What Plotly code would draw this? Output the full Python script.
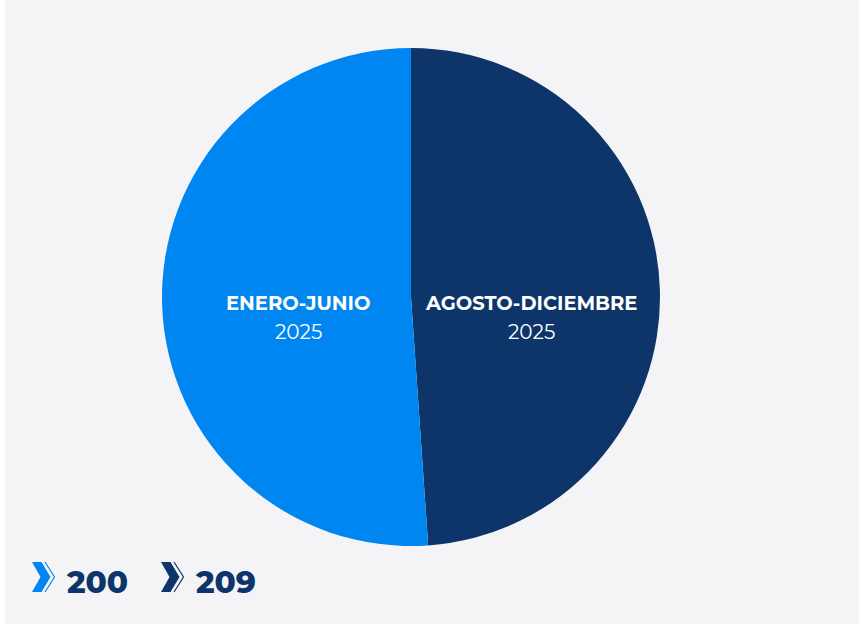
import plotly.graph_objects as go

# slice shares as drawn (dark slice on the right is slightly smaller)
slice_labels = ["AGOSTO-DICIEMBRE", "ENERO-JUNIO"]
slice_years = ["2025", "2025"]
slice_values = [200, 209]
slice_colors = ["#0d356a", "#0086f1"]

# totals shown under the pie
legend_totals = [200, 209]
legend_colors = ["#0086f1", "#0d356a"]

W, H = 859, 624
BG = "#f4f4f7"
TEXT_DARK = "#0d356a"
FONT = "Montserrat, DejaVu Sans"

fig = go.Figure()

fig.add_trace(go.Pie(
    labels=slice_labels,
    values=slice_values,
    marker=dict(colors=slice_colors, line=dict(width=0)),
    sort=False,
    direction="counterclockwise",
    rotation=0,
    textinfo="none",
    hoverinfo="label+value",
    showlegend=False,
    domain=dict(x=[(411 - 249) / W, (411 + 249) / W], y=[(327 - 249) / H, (327 + 249) / H]),
))


def px(x):
    return x / W


def py(y):
    return 1 - y / H


annotations = []
label_pos = [(531, 303), (298, 303)]
for (cx, cy), name, year in zip(label_pos, slice_labels, slice_years):
    annotations.append(dict(
        x=px(cx), y=py(cy), xref="paper", yref="paper", showarrow=False,
        xanchor="center", yanchor="middle",
        text=f"<b>{name}</b>", font=dict(family=FONT, size=19.5, color="white", weight=800),
    ))
    annotations.append(dict(
        x=px(cx), y=py(cy + 29), xref="paper", yref="paper", showarrow=False,
        xanchor="center", yanchor="middle",
        text=year, font=dict(family=FONT, size=20, color="white", weight=400),
    ))

shapes = [dict(type="rect", xref="paper", yref="paper", x0=0, x1=px(5), y0=0, y1=1,
               fillcolor="white", line=dict(width=0), layer="below")]

# chevron marker + number for each total
for i, (total, color) in enumerate(zip(legend_totals, legend_colors)):
    ox = 32 + i * 129
    solid = [(ox, 562), (ox + 9.5, 562), (ox + 18.5, 577), (ox + 9.5, 592), (ox, 592), (ox + 8.5, 577)]
    path = "M " + " L ".join(f"{px(x)},{py(y)}" for x, y in solid) + " Z"
    shapes.append(dict(type="path", xref="paper", yref="paper", path=path,
                       fillcolor=color, line=dict(width=0)))
    thin = [(ox + 13, 562), (ox + 22.5, 577), (ox + 13, 592)]
    path = "M " + " L ".join(f"{px(x)},{py(y)}" for x, y in thin)
    shapes.append(dict(type="path", xref="paper", yref="paper", path=path,
                       line=dict(color=color, width=1.2)))
    annotations.append(dict(
        x=px(ox + 32), y=py(582), xref="paper", yref="paper", showarrow=False,
        xanchor="left", yanchor="middle",
        text=str(total), font=dict(family=FONT, size=31, color=TEXT_DARK, weight=800),
    ))

fig.update_layout(
    width=W, height=H,
    margin=dict(l=0, r=0, t=0, b=0),
    paper_bgcolor=BG,
    plot_bgcolor=BG,
    annotations=annotations,
    shapes=shapes,
)

fig.write_html("out.html", config={"displayModeBar": False},
               post_script="document.body.style.margin='0';")
